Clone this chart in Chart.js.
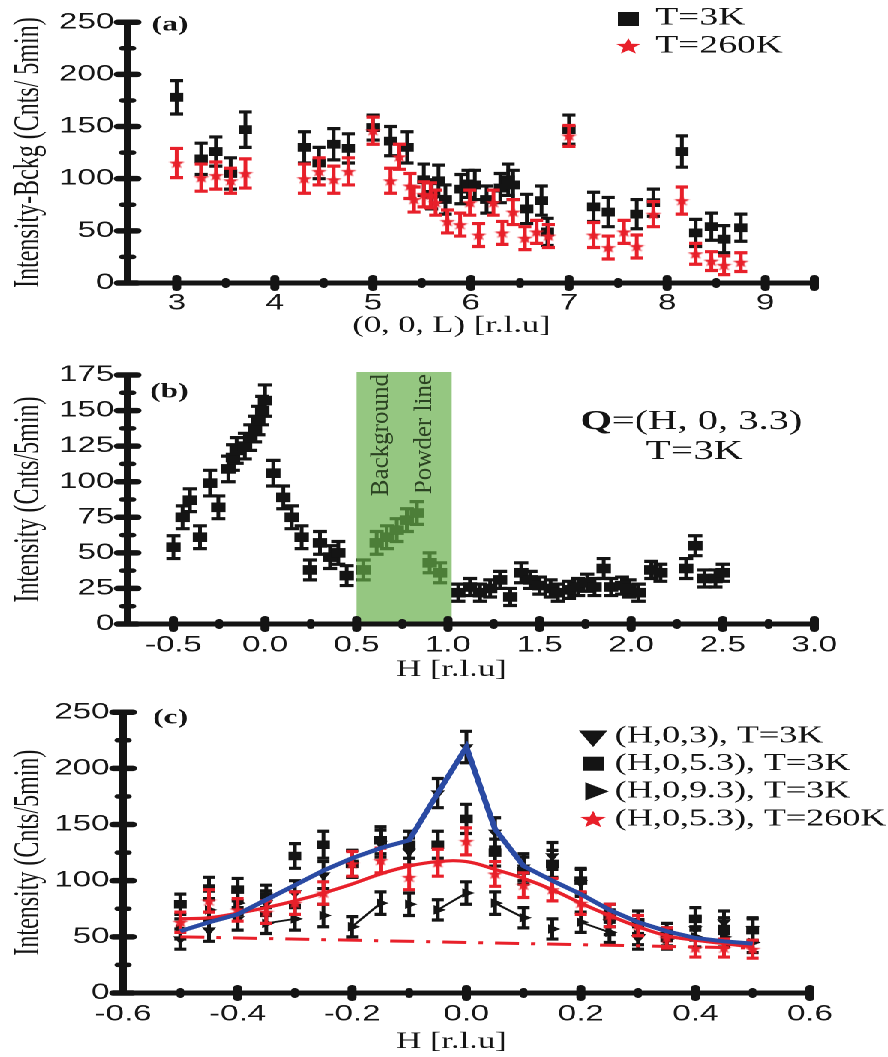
<!DOCTYPE html>
<html>
<head>
<meta charset="utf-8">
<title>Neutron scans</title>
<script src="https://cdn.jsdelivr.net/npm/chart.js@4.4.1/dist/chart.umd.min.js"></script>
<style>
  html, body { margin: 0; padding: 0; background: #fff; overflow: hidden; }
  /* the figure is laid out 592px wide and stretched sideways */
  #figure { width: 592px; transform: scaleX(1.5); transform-origin: 0 0; }
  canvas { display: block; }
</style>
</head>
<body>
<div id="figure">
  <canvas id="panelA" width="592" height="345"></canvas>
  <canvas id="panelB" width="592" height="345"></canvas>
  <canvas id="panelC" width="592" height="367"></canvas>
</div>
<script>
// (a) intensity minus background along (0, 0, L)
var L_3K = [3.0, 3.25, 3.4, 3.55, 3.7, 4.3, 4.45, 4.6, 4.75, 5.0, 5.18, 5.35, 5.52, 5.6, 5.67, 5.74, 5.9, 5.97, 6.04, 6.16,
            6.3, 6.38, 6.43, 6.57, 6.72, 6.78, 7.0, 7.25, 7.4, 7.69, 7.86, 8.15, 8.29, 8.45, 8.58, 8.75];
var I_3K = [178, 119, 126, 105, 147, 130, 115, 133, 129, 149, 136, 130, 99, 85, 98, 80, 90, 95, 94, 80,
            91, 99, 94, 71, 79, 49, 147, 73, 68, 66, 77, 126, 48, 54, 42, 53];
var E_3K = [16, 15, 14, 15, 17, 15, 15, 15, 14, 12, 14, 15, 15, 14, 15, 14, 14, 13, 14, 13,
            14, 15, 14, 14, 14, 13, 14, 14, 14, 14, 13, 15, 13, 13, 13, 13];
var L_260K = [3.0, 3.25, 3.4, 3.55, 3.7, 4.3, 4.45, 4.6, 4.75, 5.0, 5.18, 5.27, 5.38, 5.42, 5.52, 5.59, 5.64, 5.76, 5.89, 5.99,
              6.08, 6.23, 6.32, 6.43, 6.55, 6.67, 6.79, 7.0, 7.25, 7.4, 7.56, 7.69, 7.86, 8.15, 8.29, 8.45, 8.58, 8.75];
var I_260K = [115, 101, 103, 98, 105, 100, 107, 99, 107, 146, 98, 121, 93, 80, 85, 84, 77, 59, 56, 77,
              46, 77, 48, 68, 43, 49, 45, 141, 46, 34, 49, 35, 66, 79, 28, 21, 17, 20];
var E_260K = [14, 13, 13, 12, 14, 14, 13, 13, 13, 13, 12, 12, 12, 12, 12, 12, 12, 11, 11, 12,
              11, 12, 11, 12, 11, 11, 11, 10, 12, 11, 11, 11, 12, 13, 10, 9, 9, 9];
var A_X_TICKS = [3, 4, 5, 6, 7, 8, 9];
var A_X_MARKS = [3, 4, 5, 6, 7, 8, 9, 9.5];
var A_X_MINOR = [3.5, 4.5, 5.5, 6.5, 7.5, 8.5];
var A_Y_TICKS = [0, 50, 100, 150, 200, 250];
var A_Y_MINOR = [25, 75, 125, 175, 225];

// (b) H scan through Q=(H, 0, 3.3) at 3K
var H_B = [-0.50, -0.45, -0.41, -0.355, -0.30, -0.255, -0.20, -0.175, -0.155, -0.11,
           -0.08, -0.055, -0.037, -0.015, 0.0, 0.045, 0.10, 0.146, 0.20, 0.246,
           0.30, 0.355, 0.40, 0.446, 0.537, 0.61, 0.665, 0.72, 0.775, 0.83,
           0.90, 0.956, 1.056, 1.12, 1.175, 1.23, 1.284, 1.34, 1.40, 1.45,
           1.50, 1.56, 1.60, 1.66, 1.71, 1.76, 1.80, 1.85, 1.89, 1.95,
           1.99, 2.04, 2.11, 2.16, 2.30, 2.35, 2.40, 2.46, 2.50];
var I_B = [54, 75, 87, 61, 99, 82, 109, 117, 122, 125,
           131, 137, 143, 150, 157, 106, 89, 75, 61, 38,
           57, 47, 50, 34, 38, 57, 61, 66, 73, 78,
           43, 36, 22, 26, 22, 25, 31, 19, 36, 31,
           27, 25, 22, 24, 26, 29, 26, 39, 26, 27,
           25, 22, 38, 36, 39, 55, 32, 32, 36];
var E_B = [8, 8, 8, 8, 9, 8, 9, 9, 9, 9,
           9, 9, 10, 10, 11, 9, 8, 8, 8, 7,
           8, 8, 8, 7, 7, 8, 8, 8, 8, 8,
           7, 7, 6, 6, 6, 6, 6, 6, 7, 6,
           6, 6, 6, 6, 6, 6, 6, 7, 6, 6,
           6, 6, 6, 6, 7, 7, 6, 6, 6];
var BAND_H = [0.5, 1.02];
var B_X_TICKS = [-0.5, 0, 0.5, 1, 1.5, 2, 2.5, 3];
var B_X_MINOR = [-0.25, 0.25, 0.75, 1.25, 1.75, 2.25, 2.75];
var B_Y_TICKS = [0, 25, 50, 75, 100, 125, 150, 175];
var B_Y_MINOR = [12.5, 37.5, 62.5, 87.5, 112.5, 137.5, 162.5];

// (c) H scans at several L, with fits
var H_C = [-0.5, -0.45, -0.4, -0.35, -0.3, -0.25, -0.2, -0.15, -0.1, -0.05, 0.0,
           0.05, 0.1, 0.15, 0.2, 0.25, 0.3, 0.35, 0.4, 0.45, 0.5];
var C_L3 = [48, 56, 66, 80, 89, 105, 115, 133, 126, 178, 219, 143, 112, 122, 98, 63, 49, 52, 57, 63, 57];
var E_L3 = [9, 10, 10, 11, 11, 12, 12, 12, 12, 13, 14, 13, 12, 12, 12, 11, 10, 10, 10, 10, 10];
var C_L53 = [79, 93, 92, 86, 122, 132, 115, 136, 132, 132, 155, 125, 109, 115, 100, 69, 63, 49, 66, 57, 56];
var E_L53 = [9, 10, 10, 10, 11, 12, 12, 12, 12, 12, 13, 12, 12, 12, 11, 10, 10, 9, 10, 10, 10];
var C_L93 = [57, 74, 80, 62, 66, 69, 59, 80, 79, 74, 89, 80, 67, 57, 63, 54, 52, 48, 50, 50, 45];
var E_L93 = [9, 10, 10, 9, 10, 10, 9, 10, 10, 9, 10, 10, 9, 9, 9, 9, 9, 9, 9, 9, 9];
var C_260 = [63, 82, 74, 72, 80, 89, 115, 118, 103, 116, 135, 106, 96, 92, 80, 69, 60, 49, 40, 40, 39];
var E_260 = [9, 10, 10, 10, 10, 10, 11, 11, 11, 12, 12, 11, 11, 10, 10, 10, 9, 9, 8, 8, 8];
var FIT_3K = [55, 63, 70, 83, 96, 109, 120, 129, 136, 178, 219, 146, 113, 100, 88, 74, 63, 55, 49, 46, 44];
var FIT_260K = [66, 67, 71, 76, 82, 89, 97, 106, 113, 117, 117, 110, 102, 92, 80, 69, 59, 51, 47, 44, 41];
var BG_H = [-0.5, 0.5];
var BG_I = [50, 40];
var C_X_TICKS = [-0.6, -0.4, -0.2, 0, 0.2, 0.4, 0.6];
var C_X_MARKS = [-0.4, -0.2, 0, 0.2, 0.4, 0.6];
var C_X_MINOR = [-0.5, -0.3, -0.1, 0.1, 0.3, 0.5];
var C_Y_TICKS = [0, 50, 100, 150, 200, 250];
var C_Y_MINOR = [25, 75, 125, 175, 225];

var STRETCH = 1.5;
var INK = '#141414';
var RED = '#e8202a';
var BLUE = '#2a4aa3';
var SERIF = '"Liberation Serif", "Times New Roman", serif';
var SANS = '"Liberation Sans", Arial, sans-serif';

// segments of the (H,0,9.3) guide line that show between the markers
var GUIDE_SEGMENTS = [3, 6, 9, 11, 14];

function pts(xs, ys) {
    return xs.map(function (x, i) { return {x: x, y: ys[i]}; });
}

function starPath(g, cx, cy, r) {
    g.beginPath();
    for (var k = 0; k < 10; k++) {
        var rad = k % 2 ? r * 0.42 : r;
        var ang = -Math.PI / 2 + k * Math.PI / 5;
        g.lineTo(cx + Math.cos(ang) * rad, cy + Math.sin(ang) * rad);
    }
    g.closePath();
}

// filled five-point star used as a point style
function starImage(r, color) {
    var size = Math.ceil(r * 2) + 2;
    var c = document.createElement('canvas');
    c.width = size; c.height = size;
    var g = c.getContext('2d');
    g.fillStyle = color;
    starPath(g, size / 2, size / 2 + r * 0.08, r);
    g.fill();
    return c;
}

function marker(ctx, kind, x, y, s, color) {
    ctx.fillStyle = color;
    ctx.beginPath();
    if (kind === 'rect') {
        ctx.rect(x - s / 2, y - s / 2, s, s);
    } else if (kind === 'star') {
        starPath(ctx, x, y + s * 0.08, s);
    } else {
        var rot = kind === 'down' ? Math.PI : Math.PI / 2;
        for (var k = 0; k < 3; k++) {
            var a = rot + k * 2 * Math.PI / 3;
            ctx.lineTo(x + Math.sin(a) * s, y - Math.cos(a) * s);
        }
        ctx.closePath();
    }
    ctx.fill();
}

function axis(min, max, tickVals, fit, fmt, padding) {
    return {
        type: 'linear', min: min, max: max,
        afterBuildTicks: function (s) { s.ticks = tickVals.map(function (v) { return {value: v}; }); },
        afterFit: function (s) { if (s.isHorizontal()) { s.height = fit; } else { s.width = fit; } },
        grid: {display: false, drawTicks: false},
        border: {display: false},
        ticks: {autoSkip: false, maxRotation: 0, padding: padding, color: '#161616',
                font: {family: SANS, size: 22}, callback: fmt}
    };
}

// vertical error bars with caps, drawn just under each dataset's markers
var errorBars = {
    id: 'errorBars',
    beforeDatasetDraw: function (chart, args) {
        var ds = chart.data.datasets[args.index];
        if (!ds.errors) return;
        var ctx = chart.ctx, xs = chart.scales.x, ys = chart.scales.y, cap = ds.capHalf || 4.3;
        ctx.save();
        ctx.strokeStyle = ds.barColor;
        ds.data.forEach(function (p, i) {
            var px = xs.getPixelForValue(p.x);
            var hi = ys.getPixelForValue(p.y + ds.errors[i]);
            var lo = ys.getPixelForValue(p.y - ds.errors[i]);
            ctx.lineWidth = 2.5;
            ctx.beginPath(); ctx.moveTo(px, hi); ctx.lineTo(px, lo); ctx.stroke();
            ctx.lineWidth = 3.2;
            ctx.beginPath();
            ctx.moveTo(px - cap, hi); ctx.lineTo(px + cap, hi);
            ctx.moveTo(px - cap, lo); ctx.lineTo(px + cap, lo);
            ctx.stroke();
        });
        ctx.restore();
    }
};

// heavy L-shaped axes with crossing major marks and minor dots
function axisFrame(t) {
    return {
        id: 'axisFrame',
        afterDraw: function (chart) {
            var ctx = chart.ctx, a = chart.chartArea, x = chart.scales.x, y = chart.scales.y;
            function seg(x0, y0, x1, y1) { ctx.beginPath(); ctx.moveTo(x0, y0); ctx.lineTo(x1, y1); ctx.stroke(); }
            ctx.save();
            ctx.strokeStyle = INK;
            ctx.lineWidth = 5;
            ctx.lineCap = 'butt';
            ctx.beginPath();
            ctx.moveTo(a.left, a.top - 2);
            ctx.lineTo(a.left, a.bottom);
            ctx.lineTo(a.right, a.bottom);
            ctx.stroke();
            ctx.lineCap = 'round';
            ctx.lineWidth = 5.5;
            t.yMajor.forEach(function (v) { var py = y.getPixelForValue(v); seg(a.left - 6.5, py, a.left + 6.5, py); });
            ctx.lineWidth = 4.5;
            t.yMinor.forEach(function (v) { var py = y.getPixelForValue(v); seg(a.left - 3.5, py, a.left + 3.5, py); });
            ctx.lineWidth = 6;
            t.xMajor.forEach(function (v) { var px = x.getPixelForValue(v); seg(px, a.bottom - 5, px, a.bottom + 5); });
            ctx.lineWidth = 5;
            t.xMinor.forEach(function (v) { var px = x.getPixelForValue(v); seg(px, a.bottom - 2.5, px, a.bottom + 2.5); });
            ctx.restore();
        }
    };
}

function textLayer(draw) {
    return {
        id: 'textLayer',
        afterDraw: function (chart) {
            var ctx = chart.ctx;
            ctx.save();
            ctx.fillStyle = INK;
            ctx.textBaseline = 'middle';
            draw(ctx, chart);
            ctx.restore();
        }
    };
}

function put(ctx, text, x, y, font, align) {
    ctx.font = font;
    ctx.textAlign = align || 'left';
    ctx.fillText(text, x, y);
}

function yTitle(ctx, chart, text) {
    var a = chart.chartArea;
    ctx.save();
    ctx.translate(19, (a.top + a.bottom) / 2);
    ctx.rotate(-Math.PI / 2);
    put(ctx, text, 0, 0, '24px ' + SERIF, 'center');
    ctx.restore();
}

function baseOptions(padTop, padRight) {
    return {
        responsive: false,
        animation: false,
        devicePixelRatio: 2,
        events: [],
        layout: {padding: {top: padTop, right: padRight, left: 0, bottom: 0}},
        plugins: {legend: {display: false}, tooltip: {enabled: false}}
    };
}

var intLabel = function (v) { return String(v); };
var oneDecimal = function (v) { return v.toFixed(1); };

// ---- panel (a)
var optsA = baseOptions(15, 49);
optsA.scales = {
    x: axis(2.5, 9.5, A_X_TICKS, 62, intLabel, 7),
    y: axis(0, 250, A_Y_TICKS, 85, intLabel, 9)
};
new Chart(document.getElementById('panelA'), {
    type: 'scatter',
    data: {
        datasets: [
            {label: 'T=260K', data: pts(L_260K, I_260K), errors: E_260K, barColor: RED, capHalf: 4.3,
             pointStyle: starImage(5.5, RED), pointRadius: 5, backgroundColor: RED, borderColor: RED},
            {label: 'T=3K', data: pts(L_3K, I_3K), errors: E_3K, barColor: INK, capHalf: 4.3,
             pointStyle: 'rect', pointRadius: 6.2, backgroundColor: INK, borderColor: INK, pointBorderWidth: 0}
        ]
    },
    options: optsA,
    plugins: [errorBars,
        axisFrame({xMajor: A_X_MARKS, xMinor: A_X_MINOR, yMajor: A_Y_TICKS, yMinor: A_Y_MINOR}),
        textLayer(function (ctx, chart) {
            put(ctx, '(a)', 101, 25, 'bold 21px ' + SERIF);
            marker(ctx, 'rect', 419, 19, 14, INK);
            put(ctx, 'T=3K', 437, 18, '25px ' + SERIF);
            marker(ctx, 'star', 419, 46, 8.5, RED);
            ctx.fillStyle = INK;
            put(ctx, 'T=260K', 437, 46, '25px ' + SERIF);
            put(ctx, '(0, 0, L) [r.l.u]', 301, 326, '23px ' + SERIF, 'center');
            yTitle(ctx, chart, 'Intensity-Bckg (Cnts/ 5min)');
        })]
});

// ---- panel (b)
// shaded H range where the powder line sits; the shade tints what lies under it
var powderBand = {
    id: 'powderBand',
    afterDatasetsDraw: function (chart) {
        var ctx = chart.ctx, a = chart.chartArea, x = chart.scales.x;
        var x0 = x.getPixelForValue(BAND_H[0]), x1 = x.getPixelForValue(BAND_H[1]);
        ctx.save();
        ctx.fillStyle = 'rgba(101, 174, 72, 0.69)';
        ctx.fillRect(x0, a.top - 3, x1 - x0, a.bottom - a.top + 3);
        ctx.fillStyle = '#2b4222';
        ctx.font = '25px ' + SERIF;
        ctx.textAlign = 'right';
        ctx.textBaseline = 'middle';
        [['Background', 254], ['Powder line', 283]].forEach(function (t) {
            ctx.save();
            ctx.translate(t[1], a.top - 1);
            ctx.scale(1 / STRETCH, 1);
            ctx.rotate(-Math.PI / 2);
            ctx.fillText(t[0], 0, 0);
            ctx.restore();
        });
        ctx.restore();
    }
};

var optsB = baseOptions(30, 49);
optsB.scales = {
    x: axis(-0.75, 3.0, B_X_TICKS, 66, oneDecimal, 8),
    y: axis(0, 175, B_Y_TICKS, 85, intLabel, 9)
};
new Chart(document.getElementById('panelB'), {
    type: 'scatter',
    data: {
        datasets: [
            {label: 'T=3K', data: pts(H_B, I_B), errors: E_B, barColor: INK, capHalf: 4.7,
             pointStyle: 'rect', pointRadius: 6.8, backgroundColor: INK, borderColor: INK, pointBorderWidth: 0}
        ]
    },
    options: optsB,
    plugins: [errorBars, powderBand,
        axisFrame({xMajor: B_X_TICKS, xMinor: B_X_MINOR, yMajor: B_Y_TICKS, yMinor: B_Y_MINOR}),
        textLayer(function (ctx, chart) {
            put(ctx, '(b)', 100, 47, 'bold 21px ' + SERIF);
            ctx.font = 'bold 27px ' + SERIF;
            var wq = ctx.measureText('Q').width;
            ctx.font = '27px ' + SERIF;
            var wr = ctx.measureText('=(H, 0, 3.3)').width;
            var x0 = 461 - (wq + wr) / 2;
            put(ctx, 'Q', x0, 77, 'bold 27px ' + SERIF);
            put(ctx, '=(H, 0, 3.3)', x0 + wq, 77, '27px ' + SERIF);
            put(ctx, 'T=3K', 463, 107, '27px ' + SERIF, 'center');
            put(ctx, 'H [r.l.u]', 301, 325, '23px ' + SERIF, 'center');
            yTitle(ctx, chart, 'Intensity (Cnts/5min)');
        })]
});

// ---- panel (c)
var optsC = baseOptions(13, 52);
optsC.scales = {
    x: axis(-0.6, 0.6, C_X_TICKS, 64, oneDecimal, 8),
    y: axis(0, 250, C_Y_TICKS, 82, intLabel, 9)
};
var LEGEND_C = [
    ['down', '(H,0,3), T=3K', 11, INK],
    ['rect', '(H,0,5.3), T=3K', 14, INK],
    ['right', '(H,0,9.3), T=3K', 10.5, INK],
    ['star', '(H,0,5.3), T=260K', 9, RED]
];
new Chart(document.getElementById('panelC'), {
    type: 'scatter',
    data: {
        datasets: [
            {label: 'fit 3K', data: pts(H_C, FIT_3K), showLine: true, borderColor: BLUE, borderWidth: 4, pointRadius: 0},
            {label: 'fit 260K', data: pts(H_C, FIT_260K), showLine: true, borderColor: RED, borderWidth: 3.2,
             pointRadius: 0, tension: 0.4},
            {label: 'background', data: pts(BG_H, BG_I), showLine: true, borderColor: RED, borderWidth: 3,
             borderDash: [16, 8, 3, 8], pointRadius: 0},
            {label: '(H,0,5.3), T=260K', data: pts(H_C, C_260), errors: E_260, barColor: RED, capHalf: 4,
             pointStyle: starImage(5.5, RED), pointRadius: 5, backgroundColor: RED, borderColor: RED},
            {label: '(H,0,5.3), T=3K', data: pts(H_C, C_L53), errors: E_L53, barColor: INK, capHalf: 4,
             pointStyle: 'rect', pointRadius: 6, backgroundColor: INK, borderColor: INK, pointBorderWidth: 0},
            {label: '(H,0,3), T=3K', data: pts(H_C, C_L3), errors: E_L3, barColor: INK, capHalf: 4,
             pointStyle: 'triangle', pointRotation: 180, pointRadius: 5.5, backgroundColor: INK, borderColor: INK, pointBorderWidth: 0},
            {label: '(H,0,9.3), T=3K', data: pts(H_C, C_L93), errors: E_L93, barColor: INK, capHalf: 4,
             showLine: true, borderWidth: 1.8, pointStyle: 'triangle', pointRotation: 90, pointRadius: 5.5,
             backgroundColor: INK, borderColor: INK, pointBorderWidth: 0,
             segment: {borderColor: function (c) { return GUIDE_SEGMENTS.indexOf(c.p0DataIndex) >= 0 ? INK : 'rgba(0,0,0,0)'; }}}
        ]
    },
    options: optsC,
    plugins: [errorBars,
        axisFrame({xMajor: C_X_MARKS, xMinor: C_X_MINOR, yMajor: C_Y_TICKS, yMinor: C_Y_MINOR}),
        textLayer(function (ctx, chart) {
            put(ctx, '(c)', 102, 28, 'bold 21px ' + SERIF);
            LEGEND_C.forEach(function (row, i) {
                var yy = 46 + i * 27.7;
                marker(ctx, row[0], 395.5, yy, row[2], row[3]);
                ctx.fillStyle = INK;
                put(ctx, row[1], 410, yy, '24px ' + SERIF);
            });
            put(ctx, 'H [r.l.u]', 301, 352, '23px ' + SERIF, 'center');
            yTitle(ctx, chart, 'Intensity (Cnts/5min)');
        })]
});
</script>
</body>
</html>
